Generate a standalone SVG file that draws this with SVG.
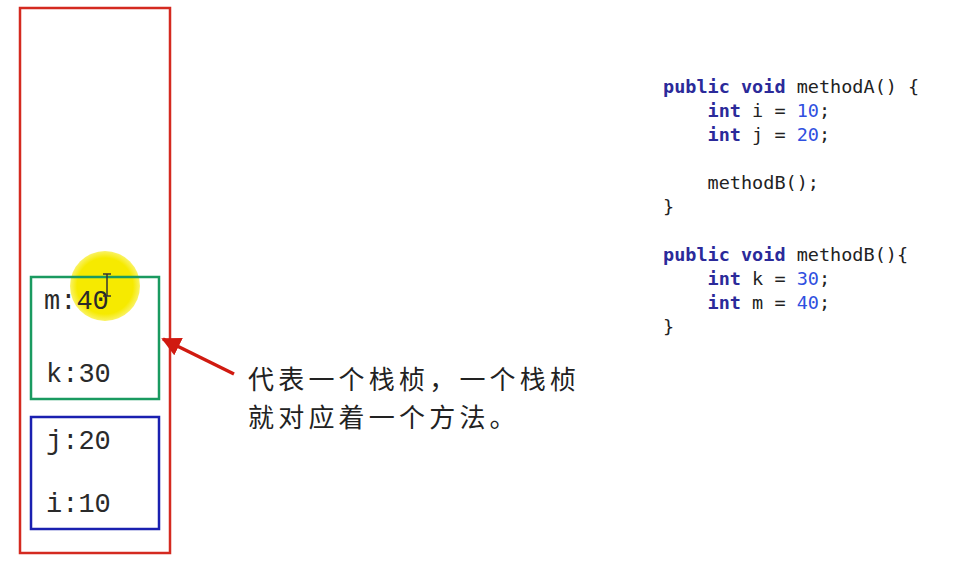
<svg xmlns="http://www.w3.org/2000/svg" width="966" height="574" viewBox="0 0 966 574">
<defs>
<style>
.var{font-family:"Liberation Mono","Courier New",monospace;font-size:27px;fill:#2a2a2a}
.code{font-family:"DejaVu Sans Mono","Liberation Mono",monospace;font-size:18.5px;fill:#222}
.kw{fill:#2b2a9a;font-weight:bold}
.num{fill:#2f4fe0}
.cn{font-family:"Noto Sans CJK SC",sans-serif;font-size:26px;letter-spacing:4.2px;fill:#222}
</style>
<marker id="ah" viewBox="0 0 10 10" refX="9" refY="5" markerWidth="5.5" markerHeight="5.5" orient="auto">
<path d="M0,0 L10,5 L0,10 z" fill="#d01a10"/>
</marker>
<radialGradient id="yg">
<stop offset="0.8" stop-color="#f6ea00"/>
<stop offset="1" stop-color="#f6ea00" stop-opacity="0.6"/>
</radialGradient>
</defs>
<rect width="966" height="574" fill="#ffffff"/>
<g id="stack">
<rect x="20" y="8" width="150" height="545" fill="none" stroke="#d42a20" stroke-width="2.5"/>
</g>
<g id="highlight">
<circle cx="105" cy="286" r="35" fill="url(#yg)"/>
</g>
<g id="frameB">
<rect x="31" y="277" width="128" height="122" fill="none" stroke="#1a9a60" stroke-width="2.5"/>
<text class="var" x="44" y="309">m:40</text>
<text class="var" x="46" y="382">k:30</text>
</g>
<g id="frameA">
<rect x="31" y="417" width="128" height="112" fill="none" stroke="#1a20b0" stroke-width="2.5"/>
<text class="var" x="46" y="449">j:20</text>
<text class="var" x="46" y="512">i:10</text>
</g>
<g id="cursor" stroke="#333" stroke-width="1.5" fill="none">
<line x1="107" y1="274" x2="107" y2="296"/>
<line x1="103" y1="274" x2="111" y2="274"/>
<line x1="103" y1="296" x2="111" y2="296"/>
</g>
<g id="connectors">
<line x1="234" y1="374" x2="163" y2="339" stroke="#d01a10" stroke-width="3.5" marker-end="url(#ah)"/>
</g>
<g id="note">
<text class="cn" x="248" y="389">代表一个栈桢，一个栈桢</text>
<text class="cn" x="248" y="427">就对应着一个方法。</text>
</g>
<g id="code" class="code">
<text x="663" y="93"><tspan class="kw">public void</tspan> methodA() {</text>
<text x="663" y="117" xml:space="preserve">    <tspan class="kw">int</tspan> i = <tspan class="num">10</tspan>;</text>
<text x="663" y="141" xml:space="preserve">    <tspan class="kw">int</tspan> j = <tspan class="num">20</tspan>;</text>
<text x="663" y="189" xml:space="preserve">    methodB();</text>
<text x="663" y="213">}</text>
<text x="663" y="261"><tspan class="kw">public void</tspan> methodB(){</text>
<text x="663" y="285" xml:space="preserve">    <tspan class="kw">int</tspan> k = <tspan class="num">30</tspan>;</text>
<text x="663" y="309" xml:space="preserve">    <tspan class="kw">int</tspan> m = <tspan class="num">40</tspan>;</text>
<text x="663" y="333">}</text>
</g>
</svg>
